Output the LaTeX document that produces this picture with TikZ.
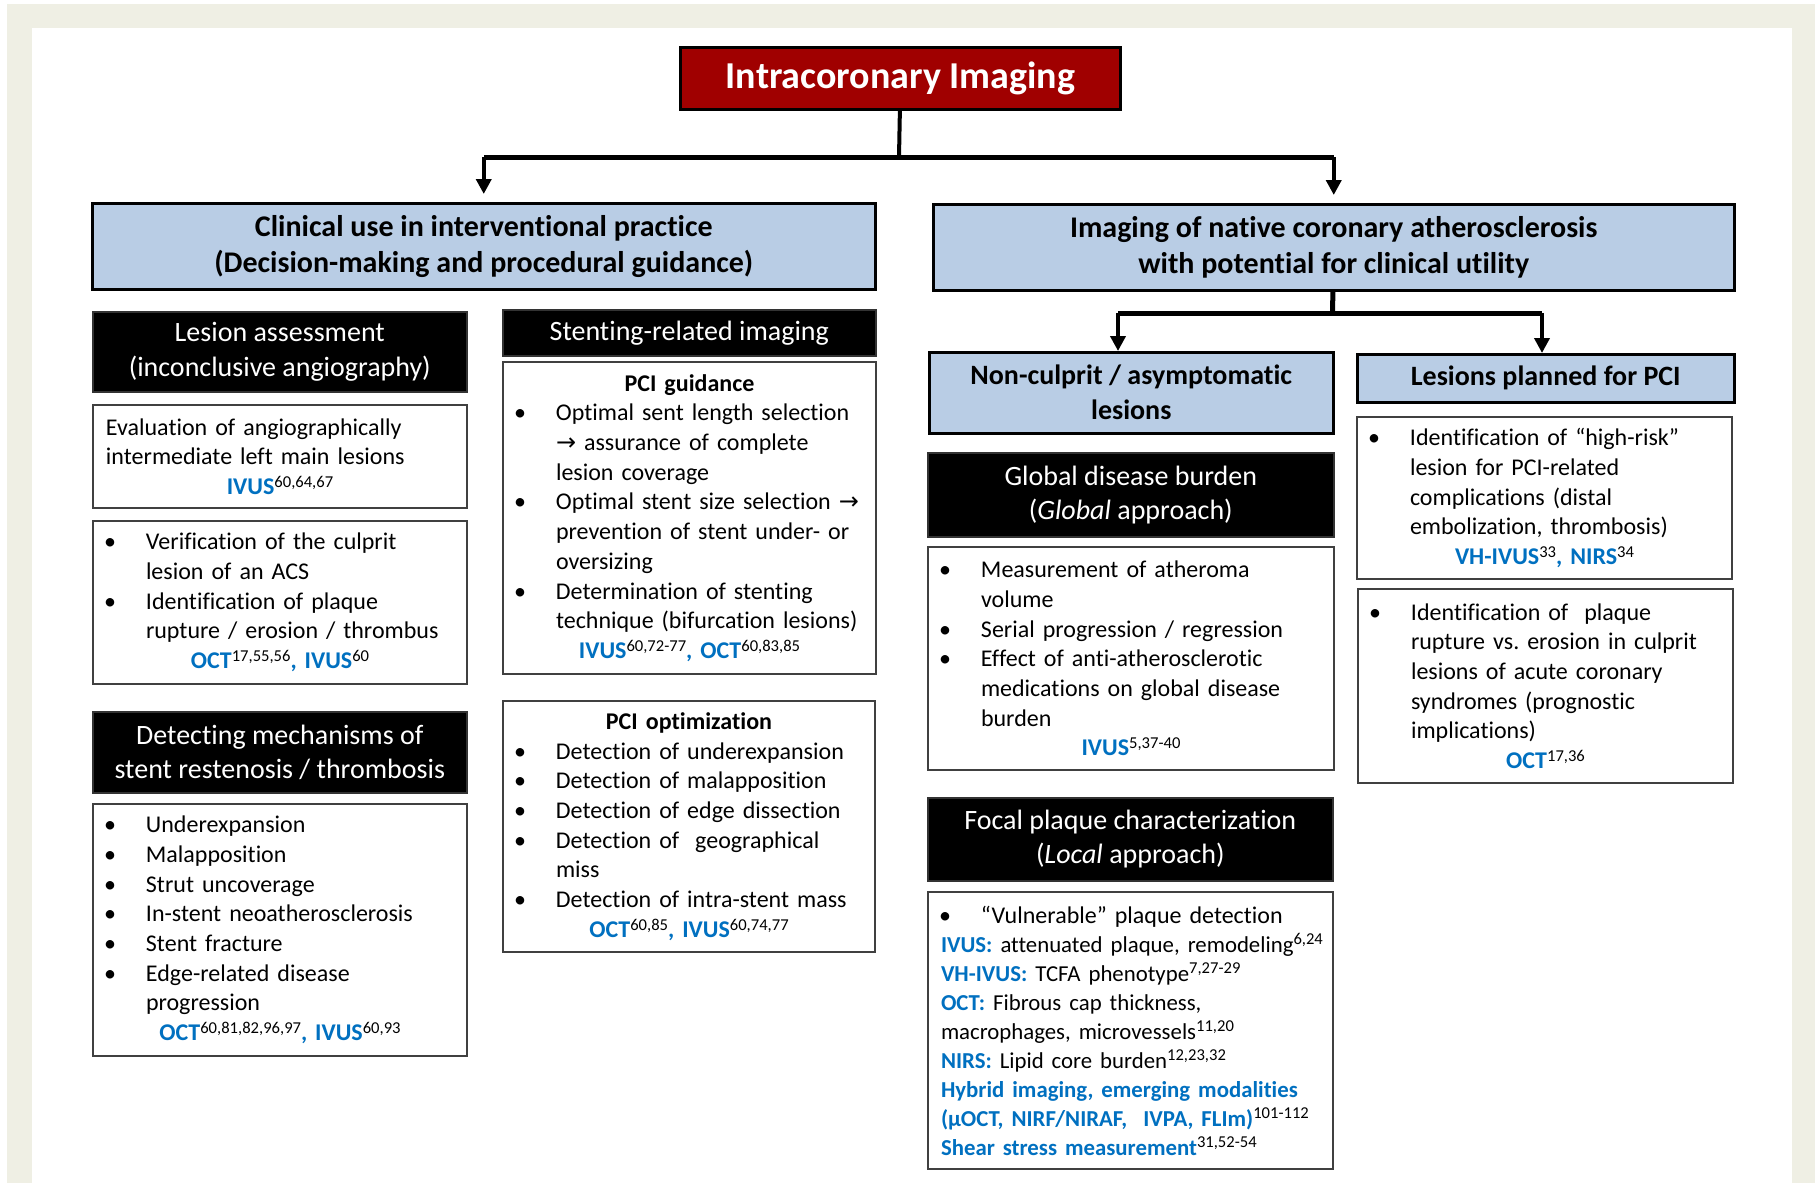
\documentclass[tikz,border=0pt]{standalone}
\usepackage{fontspec}
\setmainfont{Carlito}[Ligatures=NoCommon]
\newfontfamily\arrowfont{DejaVu Sans}
\usetikzlibrary{arrows.meta}
\definecolor{refblue}{HTML}{0070C0}
\definecolor{boxblue}{HTML}{B9CDE5}
\definecolor{titlered}{HTML}{A00000}
\definecolor{pagebeige}{HTML}{EFEFE4}
\setlength{\parindent}{0pt}
\frenchspacing
\hyphenpenalty=10000
\exhyphenpenalty=10000
\newlength\bulind
\setlength\bulind{20pt}
\newlength\lm
\setlength\lm{5.5pt}
\newif\iffirst
\newcommand\np{\iffirst\firstfalse\else\par\fi}
\newcommand\lab[1]{{\bfseries\color{refblue}#1}}
\newcommand\rf[1]{\raisebox{3.6pt}{\fontsize{8.3}{8.3}\selectfont #1}}
\newcommand\arr{{\arrowfont\fontsize{12}{12}\selectfont →}}
\newcommand\bul{\np\leftskip=\lm\hangindent=\bulind\hangafter=1\noindent\makebox[\bulind][l]{\hspace{-1pt}\textbullet}}
\newcommand\pl{\np\leftskip=\lm\noindent}
\newcommand\ctr[1]{\np{\centering #1\par}}

\begin{document}
\begin{tikzpicture}[x = 0.5pt, y = -0.5pt,
    ttl/.style  = {fill = titlered, draw = black, line width = 1.5pt, text = white, font = \bfseries\fontsize{19}{23}\selectfont, inner sep = 0pt, anchor = north west},
    cat/.style  = {fill = boxblue, draw = black, line width = 1.25pt, align = center, font = \bfseries\fontsize{14}{17.5}\selectfont, inner sep = 0pt, anchor = north west},
    bigcat/.style = {cat, font = \bfseries\fontsize{15}{18}\selectfont},
    hdr/.style  = {fill = black, draw = black!80, line width = 0.8pt, text = white, align = center, font = \fontsize{14}{17.2}\selectfont, inner sep = 0pt, anchor = north west},
    txt/.style  = {fill = white, draw = black!75, line width = 1pt, align = left, font = \fontsize{12}{14.85}\selectfont, inner xsep = 1pt, inner ysep = 0pt, anchor = north west, execute at begin node = {\firsttrue}},
    bar/.style  = {line width = 2.5pt},
    link/.style = {line width = 2pt},
    >={Triangle[length = 7.5pt, width = 7.5pt]}]

  % page frame
  \fill[white] (0,0) rectangle (1815,1183);
  \fill[pagebeige] (7,4) rectangle (1815,1183);
  \fill[white] (32,28) rectangle (1792,1183);
  \useasboundingbox (0,0) rectangle (1815,1183);

  % top level
  \node[ttl, minimum width = 220pt, minimum height = 31pt] (top) at (679,46) {Intracoronary Imaging};
  \node[bigcat, minimum width = 391.5pt, minimum height = 43pt] (clin) at (91,202)
    {Clinical use in interventional practice\\(Decision-making and procedural guidance)};
  \node[bigcat, minimum width = 400.5pt, minimum height = 43pt] (nat) at (932,203)
    {Imaging of native coronary atherosclerosis\\with potential for clinical utility};

  % left column
  \node[hdr, minimum width = 187pt, minimum height = 40pt] (lesA) at (92,311)
    {Lesion assessment\\(inconclusive angiography)};
  \node[txt, text width = 185pt, minimum height = 51.5pt] (lesB) at (92,404)
    {\pl Evaluation of angiographically\newline intermediate left main lesions
     \ctr{\lab{IVUS}\rf{60,64,67}}};
  \node[txt, text width = 185pt, minimum height = 81.5pt] (lesC) at (92,520)
    {\bul Verification of the culprit\newline lesion of an ACS
     \bul Identification of plaque\newline rupture / erosion / thrombus
     \ctr{\lab{OCT}\rf{17,55,56}\lab{, IVUS}\rf{60}}};
  \node[hdr, minimum width = 187pt, minimum height = 40.5pt] (mech) at (92,711)
    {Detecting mechanisms of\\stent restenosis / thrombosis};
  \node[txt, text width = 185pt, minimum height = 126pt] (mechB) at (92,803)
    {\bul Underexpansion
     \bul Malapposition
     \bul Strut uncoverage
     \bul In-stent neoatherosclerosis
     \bul Stent fracture
     \bul Edge-related disease\newline progression
     \ctr{\lab{OCT}\rf{60,81,82,96,97}\lab{, IVUS}\rf{60,93}}};

  % middle column
  \node[hdr, minimum width = 186.5pt, minimum height = 23pt] (stent) at (502,309) {Stenting-related imaging};
  \node[txt, text width = 184.5pt, minimum height = 156pt] (guid) at (502,361)
    {\ctr{\textbf{PCI guidance}}
     \bul Optimal sent length selection\newline \arr{} assurance of complete\newline lesion coverage
     \bul Optimal stent size selection \arr\newline prevention of stent under- or\newline oversizing
     \bul Determination of stenting\newline technique (bifurcation lesions)
     \ctr{\lab{IVUS}\rf{60,72-77}\lab{, OCT}\rf{60,83,85}}};
  \node[txt, text width = 184pt, minimum height = 125.5pt] (optim) at (502,700)
    {\ctr{\textbf{PCI optimization}}
     \bul Detection of underexpansion
     \bul Detection of malapposition
     \bul Detection of edge dissection
     \bul Detection of~ geographical\newline miss
     \bul Detection of intra-stent mass
     \ctr{\lab{OCT}\rf{60,85}\lab{, IVUS}\rf{60,74,77}}};

  % native atherosclerosis, left branch
  \node[cat, minimum width = 202pt, minimum height = 40.5pt] (noncul) at (928,351)
    {Non-culprit / asymptomatic\\lesions};
  \node[hdr, minimum width = 203pt, minimum height = 42pt] (glob) at (927,452)
    {Global disease burden\\(\textit{Global} approach)};
  \node[txt, text width = 201pt, minimum height = 111.5pt] (globB) at (927,546)
    {\bul Measurement of atheroma\newline volume
     \bul Serial progression / regression
     \bul Effect of anti-atherosclerotic\newline medications on global disease\newline burden
     \ctr{\lab{IVUS}\rf{5,37-40}}};
  \node[hdr, minimum width = 202.5pt, minimum height = 41.5pt] (foc) at (927,797)
    {Focal plaque characterization\\(\textit{Local} approach)};
  \node[txt, text width = 200.5pt, minimum height = 138.5pt] (focB) at (927,891)
    {\bul “Vulnerable” plaque detection
     \pl\fontsize{11.4}{14.5}\selectfont
     \lab{IVUS:} attenuated plaque, remodeling\rf{6,24}\newline
     \lab{VH-IVUS:} TCFA phenotype\rf{7,27-29}\newline
     \lab{OCT:} Fibrous cap thickness,\newline
     macrophages, microvessels\rf{11,20}\newline
     \lab{NIRS:} Lipid core burden\rf{12,23,32}\newline
     \lab{Hybrid imaging, emerging modalities}\newline
     \lab{(µOCT, NIRF/NIRAF,~ IVPA, FLIm)}\rf{101-112}\newline
     \lab{Shear stress measurement}\rf{31,52-54}\par};

  % native atherosclerosis, right branch
  \node[cat, minimum width = 188.5pt, minimum height = 24pt] (plan) at (1356,353) {Lesions planned for PCI};
  \node[txt, text width = 185.5pt, minimum height = 81pt] (planB) at (1356,416)
    {\bul Identification of “high-risk”\newline lesion for PCI-related\newline complications (distal\newline embolization, thrombosis)
     \ctr{\lab{VH-IVUS}\rf{33}\lab{, NIRS}\rf{34}}};
  \node[txt, text width = 185.5pt, minimum height = 97pt] (planC) at (1357,588)
    {\bul Identification of~ plaque\newline rupture vs. erosion in culprit\newline lesions of acute coronary\newline syndromes (prognostic\newline implications)
     \ctr{\lab{OCT}\rf{17,36}}};

  % connectors
  \coordinate (j1) at (899,157);
  \coordinate (j2) at (1332.5,313);
  \coordinate (k1) at (1118,313);
  \coordinate (k2) at (1542,313);
  \draw[link] (top) -- (j1);
  \draw[bar] (clin.north |- j1) -- (nat.north |- j1);
  \path[->, link] (clin.north |- j1) edge[shorten > = 4pt] (clin.north)
                  (nat.north |- j1)  edge[shorten > = 4pt] (nat.north);
  \draw[bar] (nat) -- (j2);
  \draw[bar] (k1) -- (k2);
  \path[->, link] (k1) edge (k1 |- noncul.north)
                  (k2) edge (k2 |- plan.north);

\end{tikzpicture}
\end{document}
